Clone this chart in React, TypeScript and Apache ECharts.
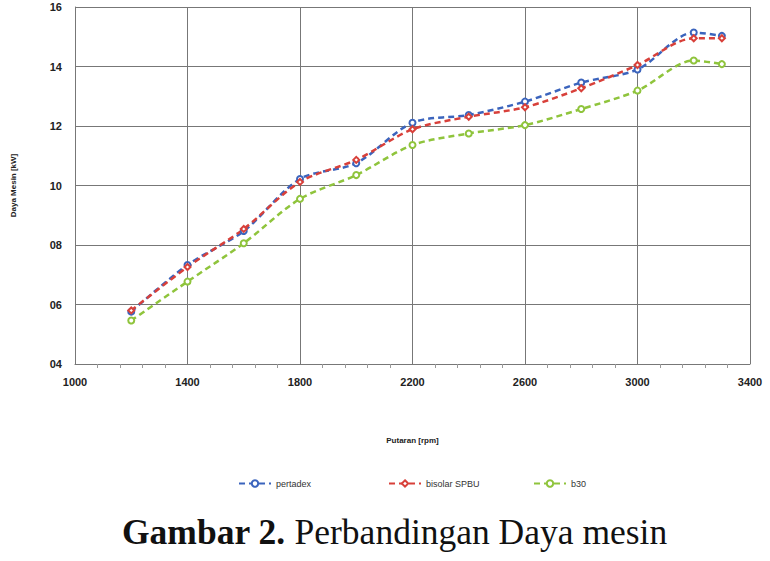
import React, { useEffect, useRef } from "react";
import * as echarts from "echarts";

const rpm = [1200, 1400, 1600, 1800, 2000, 2200, 2400, 2600, 2800, 3000, 3200, 3300];
const pertadex = [5.76, 7.33, 8.47, 10.22, 10.75, 12.11, 12.37, 12.82, 13.46, 13.9, 15.14, 15.03];
const bisolar = [5.8, 7.26, 8.54, 10.12, 10.86, 11.89, 12.31, 12.63, 13.27, 14.05, 14.95, 14.95];
const b30 = [5.46, 6.77, 8.06, 9.55, 10.35, 11.36, 11.75, 12.03, 12.57, 13.19, 14.2, 14.08];
const seriesNames = ["pertadex", "bisolar SPBU", "b30"];
const colors = ["#3b64bd", "#d8403a", "#8fc43c"];
const symbols = ["emptyCircle", "emptyDiamond", "emptyCircle"];

export default function App() {
  const ref = useRef<HTMLDivElement>(null);
  useEffect(() => {
    const chart = echarts.init(ref.current!, null, { renderer: "svg" });
    const datasets = [pertadex, bisolar, b30];
    const labelFont = { fontFamily: "Liberation Sans", fontWeight: "bold" as const, color: "#222" };
    chart.setOption({
      animation: false,
      backgroundColor: "#fff",
      title: {
        text: "{b|Gambar 2.} Perbandingan Daya mesin",
        left: 117,
        top: 509,
        textStyle: {
          fontFamily: "Liberation Serif",
          fontSize: 35.5,
          fontWeight: "normal",
          color: "#111",
          rich: {
            b: { fontFamily: "Liberation Serif", fontSize: 35.5, fontWeight: "bold", color: "#111" },
          },
        },
      },
      legend: [0, 1, 2].map((i) => ({
        data: [seriesNames[i]],
        left: [233, 383, 528][i],
        top: 474,
        itemWidth: 32,
        itemHeight: 8,
        itemGap: 4,
        textStyle: { fontFamily: "Liberation Sans", fontSize: 9, color: "#333" },
      })),
      grid: { left: 75, right: 20, top: 7, bottom: 197 },
      xAxis: {
        type: "value",
        min: 1000,
        max: 3400,
        interval: 400,
        name: "Putaran [rpm]",
        nameLocation: "middle",
        nameGap: 72,
        nameTextStyle: { ...labelFont, fontSize: 8 },
        axisLine: { show: true, lineStyle: { color: "#777", width: 1 } },
        axisTick: { show: false },
        minorTick: { show: true, splitNumber: 5, length: 4, lineStyle: { color: "#999" } },
        splitLine: { show: true, lineStyle: { color: "#777", width: 1 } },
        axisLabel: { ...labelFont, fontSize: 11, margin: 12, formatter: (v: number) => String(v) },
      },
      yAxis: {
        type: "value",
        min: 4,
        max: 16,
        interval: 2,
        name: "Daya Mesin [kW]",
        nameLocation: "middle",
        nameGap: 58,
        nameTextStyle: { ...labelFont, fontSize: 8 },
        axisLine: { show: true, lineStyle: { color: "#777", width: 1 } },
        axisTick: { show: false },
        splitLine: { show: true, lineStyle: { color: "#777", width: 1 } },
        axisLabel: {
          ...labelFont,
          fontSize: 11,
          margin: 13,
          formatter: (v: number) => (v < 10 ? "0" + v : String(v)),
        },
      },
      series: datasets.map((d, i) => ({
        name: seriesNames[i],
        type: "line",
        smooth: 0.3,
        data: rpm.map((x, j) => [x, d[j]]),
        symbol: symbols[i],
        symbolSize: 6,
        color: colors[i],
        lineStyle: { type: [6, 4], width: 2.5, color: colors[i] },
        itemStyle: { color: colors[i], borderWidth: 1.5 },
      })),
    });
    return () => chart.dispose();
  }, []);
  return (
    <div
      ref={ref}
      style={{ position: "fixed", left: 0, top: 0, width: 770, height: 561 }}
    />
  );
}
